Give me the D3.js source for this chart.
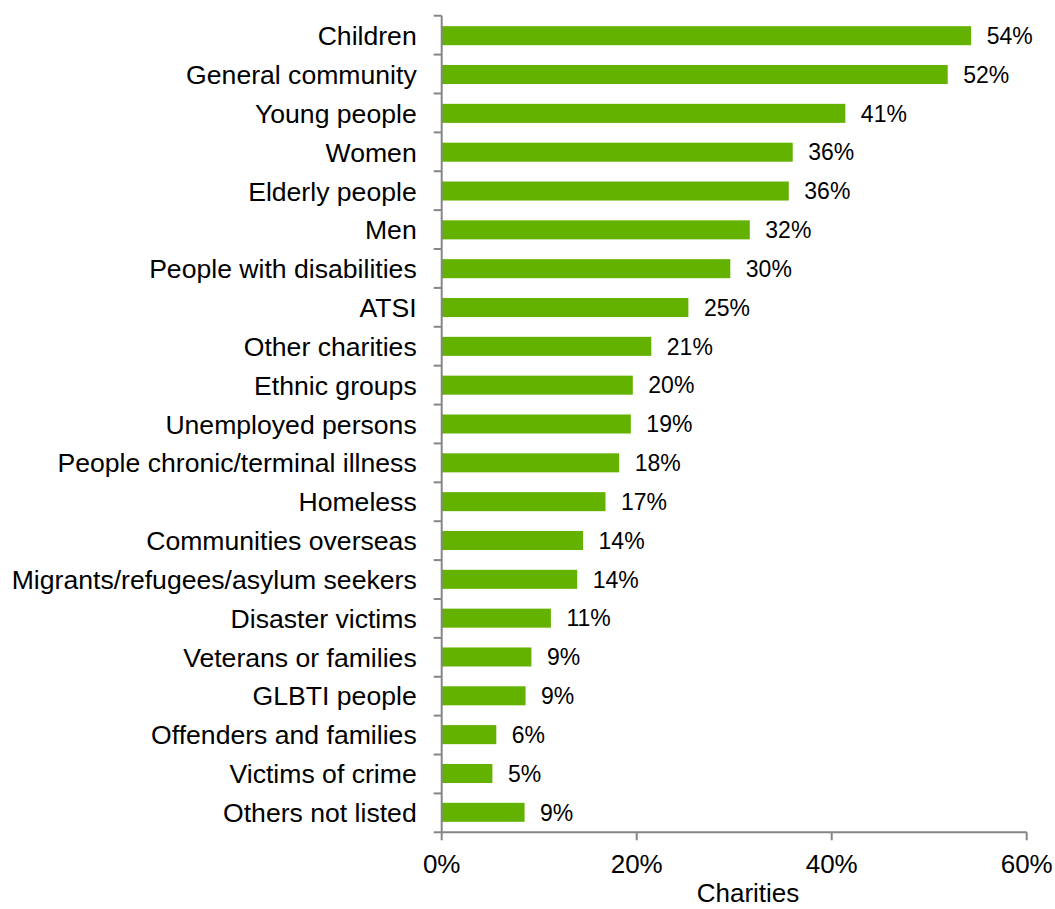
<!DOCTYPE html>
<html><head><meta charset="utf-8">
<script src="https://cdn.jsdelivr.net/npm/d3@7"></script>
<style>body{margin:0;background:#fff}svg{font-family:"Liberation Sans",Arial,sans-serif}</style>
</head><body>
<svg id="c" width="1055" height="909"></svg>
<script>
const categories = ["Children","General community","Young people","Women","Elderly people","Men","People with disabilities","ATSI","Other charities","Ethnic groups","Unemployed persons","People chronic/terminal illness","Homeless","Communities overseas","Migrants/refugees/asylum seekers","Disaster victims","Veterans or families","GLBTI people","Offenders and families","Victims of crime","Others not listed"];
const values = [54.3,51.9,41.4,36.0,35.6,31.6,29.6,25.3,21.5,19.6,19.4,18.2,16.8,14.5,13.9,11.2,9.2,8.6,5.6,5.2,8.5];
const labels = ["54%","52%","41%","36%","36%","32%","30%","25%","21%","20%","19%","18%","17%","14%","14%","11%","9%","9%","6%","5%","9%"];
const xTicks = [0,20,40,60];
const xTitle = "Charities";

const svg = d3.select("#c");
const x0 = 441.7, x1 = 1026.7, yTop = 15.7, yBot = 832.3;
const x = d3.scaleLinear().domain([0,60]).range([x0,x1]);
const y = d3.scaleBand().domain(categories).range([yTop,yBot]).paddingInner(0.51).paddingOuter(0.27);
const axisColor = "#868686";

// bars
svg.append("g").selectAll("rect").data(categories).join("rect")
  .attr("x", x(0)).attr("y", d => y(d))
  .attr("width", (d,i) => x(values[i]) - x(0))
  .attr("height", y.bandwidth())
  .attr("fill", "#63b200");

// value labels
svg.append("g").selectAll("text").data(categories).join("text")
  .attr("x", (d,i) => x(values[i]) + 15.5)
  .attr("y", d => y(d) + y.bandwidth()/2)
  .attr("dy", "0.36em")
  .attr("font-size", 23).attr("fill", "#000")
  .text((d,i) => labels[i]);

// y axis
const yg = svg.append("g");
yg.append("line").attr("x1", x0).attr("x2", x0).attr("y1", yTop).attr("y2", yBot).attr("stroke", axisColor).attr("stroke-width", 2);
const step = (yBot - yTop) / categories.length;
yg.selectAll("line.t").data(d3.range(categories.length + 1)).join("line").attr("class","t")
  .attr("x1", x0 - 8).attr("x2", x0)
  .attr("y1", i => yTop + i*step).attr("y2", i => yTop + i*step)
  .attr("stroke", axisColor).attr("stroke-width", 2);
yg.selectAll("text").data(categories).join("text")
  .attr("x", x0 - 25).attr("y", d => y(d) + y.bandwidth()/2).attr("dy", "0.36em")
  .attr("text-anchor", "end").attr("font-size", 26.6).attr("fill", "#000").text(d => d);

// x axis
const xg = svg.append("g");
xg.append("line").attr("x1", x0).attr("x2", x1).attr("y1", yBot).attr("y2", yBot).attr("stroke", axisColor).attr("stroke-width", 2);
xg.selectAll("line.t").data(xTicks).join("line").attr("class","t")
  .attr("x1", d => x(d)).attr("x2", d => x(d)).attr("y1", yBot).attr("y2", yBot + 8)
  .attr("stroke", axisColor).attr("stroke-width", 2);
xg.selectAll("text").data(xTicks).join("text")
  .attr("x", d => x(d)).attr("y", 873).attr("text-anchor", "middle")
  .attr("font-size", 26).attr("fill", "#000").text(d => d + "%");
svg.append("text").attr("x", 748).attr("y", 902).attr("text-anchor", "middle")
  .attr("font-size", 26).attr("fill", "#000").text(xTitle);
</script>
</body></html>
